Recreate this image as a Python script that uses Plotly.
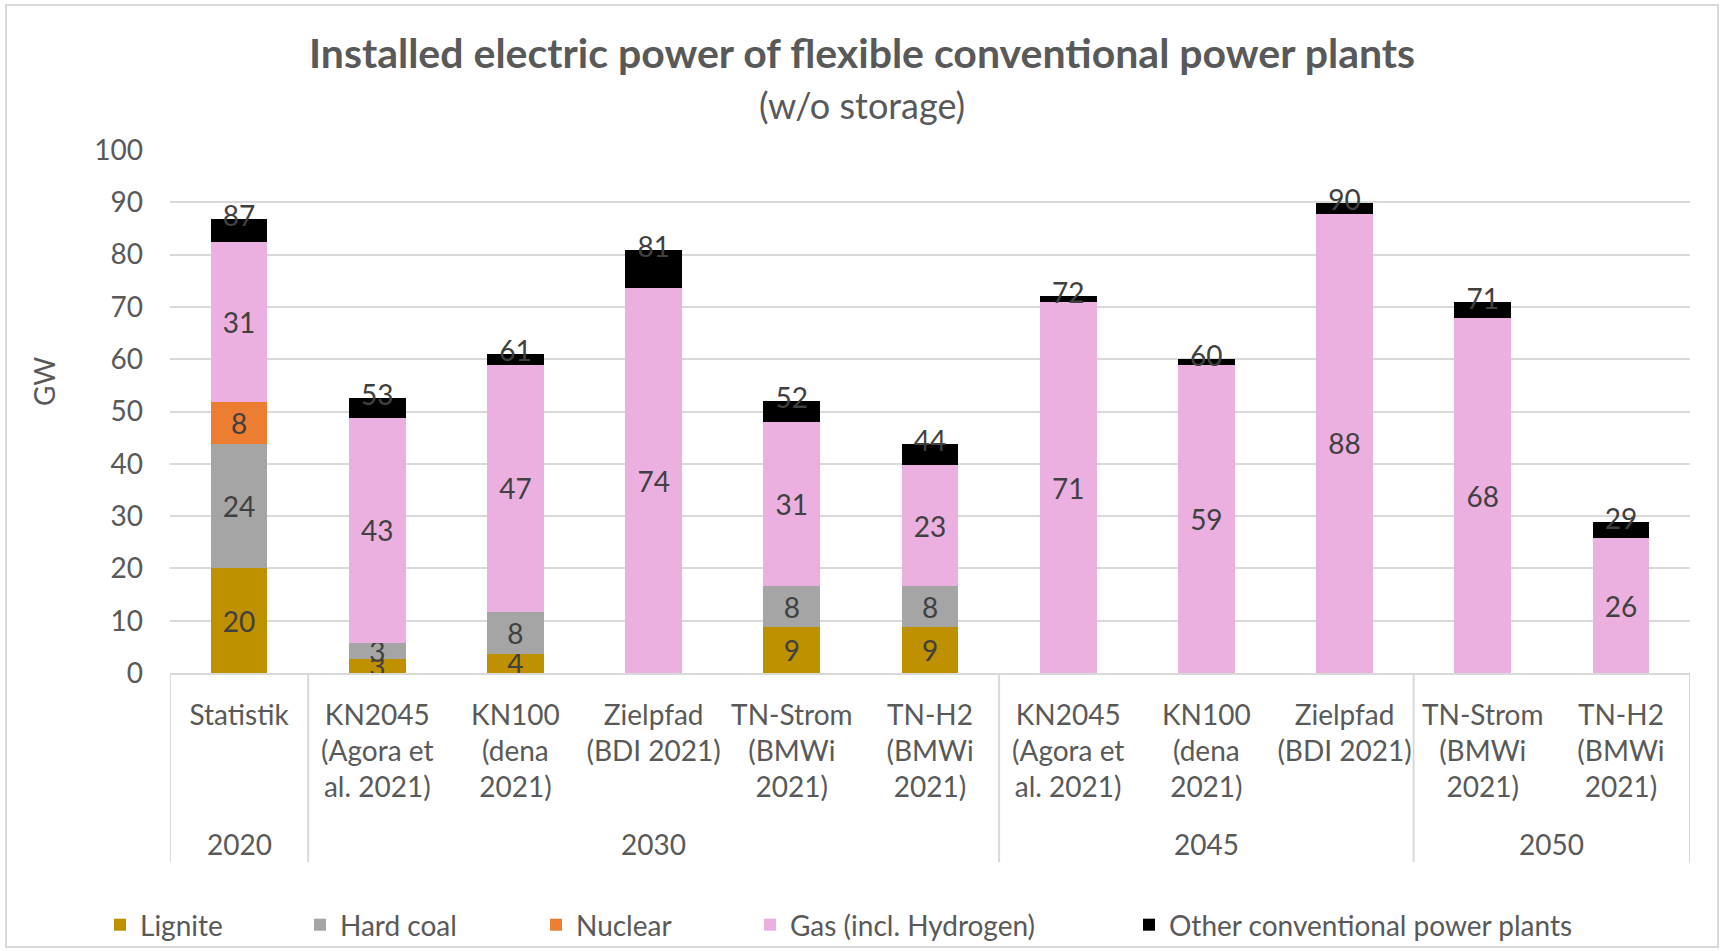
import plotly.graph_objects as go

# ---------------- data ----------------
years = ["2020", "2030", "2045", "2050"]
year_groups = [1, 5, 3, 2]  # number of scenarios per year
scenarios = [
    "Statistik",
    "KN2045<br>(Agora et<br>al. 2021)",
    "KN100<br>(dena<br>2021)",
    "Zielpfad<br>(BDI 2021)",
    "TN-Strom<br>(BMWi<br>2021)",
    "TN-H2<br>(BMWi<br>2021)",
    "KN2045<br>(Agora et<br>al. 2021)",
    "KN100<br>(dena<br>2021)",
    "Zielpfad<br>(BDI 2021)",
    "TN-Strom<br>(BMWi<br>2021)",
    "TN-H2<br>(BMWi<br>2021)",
]
lignite = [20.0, 2.6, 3.7, 0, 8.8, 8.8, 0, 0, 0, 0, 0]
hard_coal = [23.7, 3.2, 8.0, 0, 7.8, 7.8, 0, 0, 0, 0, 0]
nuclear = [8.2, 0, 0, 0, 0, 0, 0, 0, 0, 0, 0]
gas = [30.6, 43.0, 47.2, 73.6, 31.3, 23.2, 70.9, 58.9, 87.8, 67.8, 25.8]
other = [4.3, 3.8, 2.1, 7.2, 4.1, 3.9, 1.1, 1.1, 2.1, 3.1, 3.1]

series_names = ["Lignite", "Hard coal", "Nuclear", "Gas (incl. Hydrogen)",
                "Other conventional power plants"]
series_values = [lignite, hard_coal, nuclear, gas, other]
series_colors = ["#BF9000", "#A5A5A5", "#ED7D31", "#EBB0DF", "#000000"]
series_labelled = [True, True, True, True, False]

# ---------------- style ----------------
FONT = "Lato"
TXT = "#595959"
LBL = "#404040"
GRID = "#D9D9D9"
FS = 28

W, H = 1721, 951
L, R, T, B = 170, 31, 150, 278
PH = H - T - B
PW = W - L - R

x = list(range(len(scenarios)))

fig = go.Figure()
legend_text_x = [140, 340, 576, 790, 1169]
for i, (name, vals, col, lab) in enumerate(zip(series_names, series_values,
                                                series_colors, series_labelled)):
    txt = [f"{v:.0f}" if (lab and v > 0) else "" for v in vals]
    fig.add_trace(go.Bar(
        x=x, y=vals, name=name, marker=dict(color=col, line=dict(width=0)),
        width=0.41, text=txt, textposition="inside", insidetextanchor="middle",
        textangle=0, constraintext="none",
        insidetextfont=dict(family=FONT, size=FS, color=LBL),
        legend="legend" if i == 0 else f"legend{i+1}",
        hoverinfo="y+name",
    ))

totals = [sum(s[k] for s in series_values) for k in range(len(x))]
fig.add_trace(go.Scatter(
    x=x, y=totals, mode="text", text=[f"{t:.0f}" for t in totals],
    textposition="middle center",
    textfont=dict(family=FONT, size=FS, color=LBL),
    showlegend=False, cliponaxis=False, hoverinfo="skip",
))

layout_legends = {}
for i, tx in enumerate(legend_text_x):
    key = "legend" if i == 0 else f"legend{i+1}"
    layout_legends[key] = dict(
        xref="container", yref="container",
        x=(tx - 40) / W, y=1 - 925 / H, xanchor="left", yanchor="middle",
        orientation="h", bgcolor="rgba(0,0,0,0)", borderwidth=0,
        font=dict(family=FONT, size=FS, color=TXT),
    )

fig.update_layout(
    width=W, height=H, barmode="stack",
    margin=dict(l=L, r=R, t=T, b=B, autoexpand=False),
    paper_bgcolor="white", plot_bgcolor="white",
    font=dict(family=FONT, size=FS, color=TXT),
    title=dict(text="<b>Installed electric power of flexible conventional power plants</b>",
               x=862 / W, xanchor="center", xref="container",
               y=1 - 54 / H, yanchor="middle", yref="container",
               font=dict(family=FONT, size=41, color=TXT)),
    bargap=0.59,
    **layout_legends,
)

fig.update_xaxes(
    range=[-0.5, len(x) - 0.5], tickvals=x, ticktext=scenarios,
    showgrid=False, zeroline=False, showline=True, linecolor=GRID, linewidth=2,
    ticks="", tickfont=dict(family=FONT, size=FS, color=TXT),
    ticklabelstandoff=16, fixedrange=True,
)
fig.update_yaxes(
    range=[0, 100], tick0=0, dtick=10, showgrid=True, gridcolor=GRID, gridwidth=2,
    zeroline=False, showline=False, ticks="",
    tickfont=dict(family=FONT, size=FS, color=TXT),
    ticklabelstandoff=26, fixedrange=True,
)

def py(pix):
    return (H - B - pix) / PH

def px(pix):
    return (pix - L) / PW

# subtitle and axis title
fig.add_annotation(text="(w/o storage)", xref="paper", yref="paper",
                   x=px(862), y=py(105), showarrow=False, xanchor="center",
                   yanchor="middle", font=dict(family=FONT, size=36, color=TXT))
fig.add_annotation(text="GW", xref="paper", yref="paper", x=px(44), y=py(382),
                   showarrow=False, textangle=-90, xanchor="center", yanchor="middle",
                   font=dict(family=FONT, size=FS, color=TXT))

# year group labels and dividers
start = 0
bounds = [-0.5]
for yr, n in zip(years, year_groups):
    centre = start + (n - 1) / 2
    fig.add_annotation(text=yr, xref="x", yref="paper", x=centre, y=py(844),
                       showarrow=False, xanchor="center", yanchor="middle",
                       font=dict(family=FONT, size=FS, color=TXT))
    start += n
    bounds.append(start - 0.5)
for b in bounds:
    fig.add_shape(type="line", xref="x", yref="paper", x0=b, x1=b,
                  y0=0, y1=py(862), line=dict(color=GRID, width=2))

# chart border
fig.add_shape(type="rect", xref="paper", yref="paper",
              x0=px(6), x1=px(1718), y0=py(947), y1=py(5),
              line=dict(color=GRID, width=2), layer="below")

fig.write_html("out.html")
